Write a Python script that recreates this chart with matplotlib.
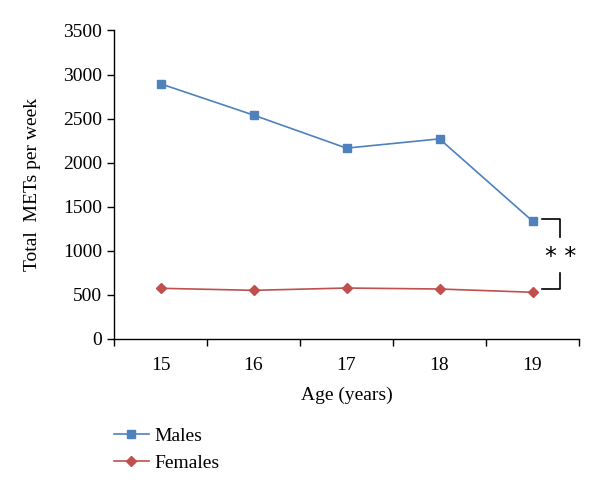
import matplotlib
matplotlib.use("Agg")
import matplotlib.pyplot as plt

ages = ["15", "16", "17", "18", "19"]
males = [2895, 2540, 2165, 2270, 1338]
females = [575, 552, 578, 567, 530]

plt.rcParams["font.family"] = ["Liberation Serif", "DejaVu Serif"]

fig = plt.figure(figsize=(6.0, 4.91), dpi=100)
ax = fig.add_axes([0.19, 0.3096, 0.775, 0.6284])

x = list(range(len(ages)))
ax.plot(x, males, color="#4F81BD", marker="s", markersize=6, linewidth=1.2,
        label="Males")
ax.plot(x, females, color="#C0504D", marker="D", markersize=5.5, linewidth=1.2,
        label="Females")

ax.set_xlim(-0.5, 4.5)
ax.set_ylim(0, 3500)
ax.set_yticks(range(0, 3501, 500))
ax.set_xticks([i - 0.5 for i in range(len(ages) + 1)])
ax.set_xticklabels([])
ax.set_xticks(x, minor=True)
ax.set_xticklabels(ages, minor=True)
ax.tick_params(axis="x", which="major", direction="out", length=5, width=1)
ax.tick_params(axis="x", which="minor", length=0, pad=13, labelsize=14)
ax.tick_params(axis="y", direction="out", length=5, width=1, labelsize=14)

for side in ["top", "right"]:
    ax.spines[side].set_visible(False)
for side in ["left", "bottom"]:
    ax.spines[side].set_linewidth(1)

ax.set_xlabel("Age (years)", fontsize=14, labelpad=9)
ax.set_ylabel("Total  METs per week", fontsize=14, labelpad=16)

# significance bracket at age 19
bx0, bx1 = 4.1, 4.3
ax.plot([bx0, bx1, bx1], [1360, 1360, 1157], color="black",
        linewidth=1.2, clip_on=False)
ax.plot([bx1, bx1, bx0], [748, 567, 567],
        color="black", linewidth=1.2, clip_on=False)
ax.text(bx1, 935, "* *", ha="center", va="center", fontsize=17,
        family="DejaVu Sans", clip_on=False)

ax.legend(loc="upper left", bbox_to_anchor=(-0.017, -0.262), frameon=False,
          fontsize=14, handlelength=1.8, handletextpad=0.3, labelspacing=0.45,
          borderaxespad=0)

fig.savefig("out.png", dpi=100)
